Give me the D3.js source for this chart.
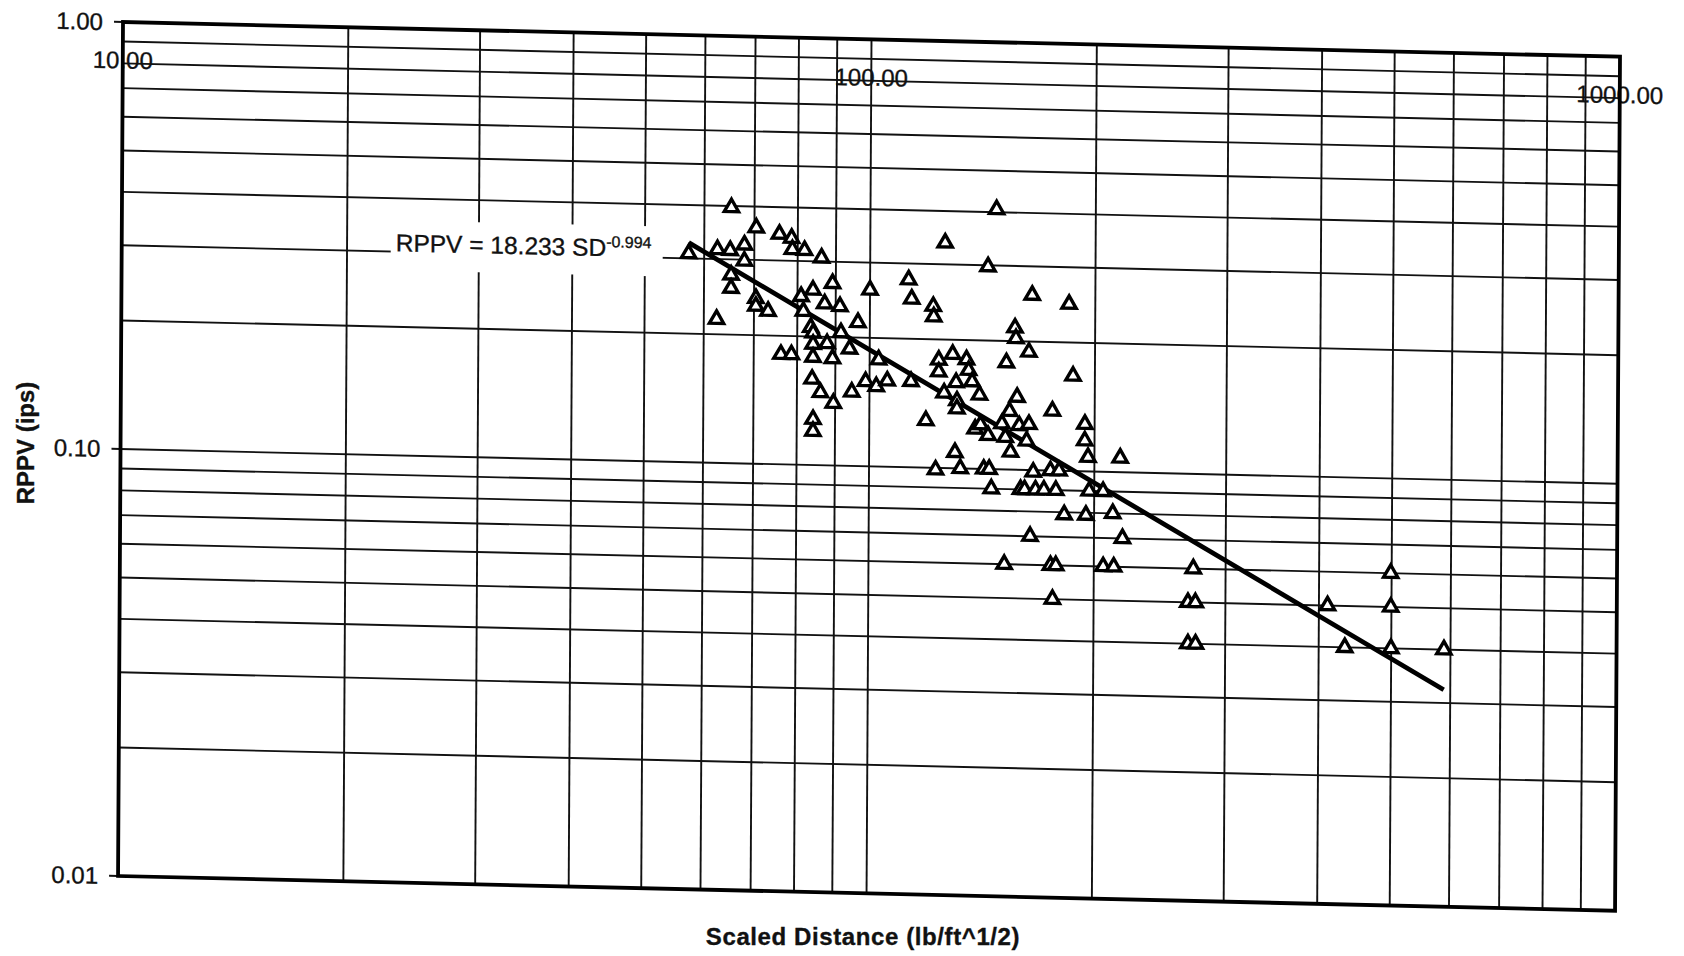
<!DOCTYPE html>
<html>
<head>
<meta charset="utf-8">
<script src="https://cdn.jsdelivr.net/npm/d3@7"></script>
<style>
  body { margin: 0; background: #fff; }
  text { font-family: "Liberation Sans", Arial, sans-serif; fill: #111; stroke: #111; stroke-width: 0.35px; }
</style>
</head>
<body>
<script>
// scaled distance (lb/ft^1/2) of each blast record
let sd = [57.2, 62.4, 62.5, 65.2, 65.0, 65.2, 65.2, 67.9, 67.9, 70.4,
  70.4, 70.4, 73.1, 75.6, 76.1, 78.5, 78.6, 78.7, 80.9, 81.7,
  81.5, 83.9, 83.4, 84.0, 84.0, 84.0, 83.8, 84.1, 84.1, 86.1,
  87.0, 86.0, 87.7, 89.1, 89.2, 89.5, 91.2, 91.5, 94.0, 94.7,
  96.4, 98.8, 100, 102.1, 102.8, 105.6, 112.6, 113.6, 113.7, 119.0,
  121.5, 121.7, 122.7, 123.7, 123.7, 125.9, 125.8, 129.1, 130.5, 130.9,
  130.9, 130.2, 132.4, 134.7, 135.6, 137.1, 138.5, 140.3, 140.8, 142.3,
  143.7, 144.1, 144.7, 145.7, 147.4, 150.4, 151.8, 152.0, 152.3, 153.9,
  154.5, 156.3, 156.8, 157.5, 158.6, 159.4, 161.4, 162.3, 163.4, 163.2,
  164.7, 165.7, 166.9, 164.3, 171.3, 174.7, 175.0, 176.2, 177.9, 177.7,
  179.4, 175.6, 182.4, 184.5, 187.0, 194.1, 194.1, 196.9, 195.0, 196.1,
  205.5, 205.8, 211.8, 212.6, 216.5, 218.3, 271.6, 267.3, 273.5, 267.5,
  273.8, 410.7, 433.4, 498.6, 498.9, 499.5, 588.0];

// measured RPPV (ips), same order
let rppv = [0.308, 0.217, 0.316, 0.397, 0.315, 0.276, 0.257, 0.298, 0.325, 0.357,
  0.244, 0.234, 0.228, 0.346, 0.181, 0.339, 0.181, 0.319, 0.248, 0.318,
  0.229, 0.257, 0.21, 0.204, 0.192, 0.179, 0.159, 0.128, 0.12, 0.306,
  0.239, 0.148, 0.193, 0.267, 0.178, 0.14, 0.236, 0.205, 0.188, 0.149,
  0.217, 0.158, 0.259, 0.154, 0.178, 0.159, 0.275, 0.159, 0.248, 0.129,
  0.239, 0.226, 0.099, 0.179, 0.168, 0.337, 0.15, 0.185, 0.159, 0.144,
  0.138, 0.109, 0.1, 0.18, 0.17, 0.16, 0.124, 0.149, 0.127, 0.1,
  0.298, 0.12, 0.1, 0.09, 0.406, 0.128, 0.06, 0.119, 0.178, 0.137,
  0.11, 0.215, 0.203, 0.148, 0.127, 0.09, 0.09, 0.117, 0.128, 0.189,
  0.257, 0.099, 0.09, 0.07, 0.09, 0.1, 0.06, 0.05, 0.06, 0.09,
  0.1, 0.138, 0.079, 0.246, 0.167, 0.129, 0.118, 0.09, 0.079, 0.108,
  0.09, 0.06, 0.08, 0.06, 0.108, 0.07, 0.06, 0.05, 0.05, 0.04,
  0.04, 0.05, 0.04, 0.06, 0.05, 0.04, 0.04];

// power fit shown on the chart
let fitCoef = 18.233;
let fitExp = -0.994;

let xTicks = [10, 100, 1000];
let yTicks = [0.01, 0.1, 1];
let xTickLabels = ["10.00", "100.00", "1000.00"];
let yTickLabels = ["0.01", "0.10", "1.00"];

let svg = d3.select('body')
  .append('svg')
  .attr('width', 1684)
  .attr('height', 956);

let width = 1497;
let height = 854;

// the scanned page is slightly skewed, so the plot is drawn in a sheared frame
let plot = svg.append('g')
  .attr('transform', 'matrix(1, 0.0232, -0.0058, 1, 123, 22)');

let x = d3.scaleLog().domain([10, 1000]).range([0, width]);
let y = d3.scaleLog().domain([0.01, 1]).range([height, 0]);

// minor + major grid lines at 1..9 of each decade
let xGrid = [];
[10, 100].forEach(d => d3.range(1, 10).forEach(k => xGrid.push(d * k)));
let yGrid = [];
[0.01, 0.1].forEach(d => d3.range(1, 10).forEach(k => yGrid.push(d * k)));

plot.selectAll('.vgrid')
  .data(xGrid)
  .enter()
  .append('line')
  .attr('x1', d => x(d))
  .attr('x2', d => x(d))
  .attr('y1', 0)
  .attr('y2', height)
  .attr('stroke', '#111')
  .attr('stroke-width', 1.9);

plot.selectAll('.hgrid')
  .data(yGrid)
  .enter()
  .append('line')
  .attr('x1', 0)
  .attr('x2', width)
  .attr('y1', d => y(d))
  .attr('y2', d => y(d))
  .attr('stroke', '#111')
  .attr('stroke-width', 1.9);

// y ticks and labels
plot.selectAll('.ytick')
  .data(yTicks)
  .enter()
  .append('line')
  .attr('x1', -9)
  .attr('x2', 0)
  .attr('y1', d => y(d))
  .attr('y2', d => y(d))
  .attr('stroke', '#111')
  .attr('stroke-width', 2);

plot.selectAll('.ylab')
  .data(yTicks)
  .enter()
  .append('text')
  .attr('x', -20)
  .attr('y', d => y(d))
  .attr('dy', '0.35em')
  .attr('text-anchor', 'end')
  .style('font-size', '24px')
  .text((d, i) => yTickLabels[i]);

// x labels sit just below the top edge, as in the original
plot.selectAll('.xlab')
  .data(xTicks)
  .enter()
  .append('text')
  .attr('x', d => x(d))
  .attr('y', 38)
  .attr('dy', '0.35em')
  .attr('text-anchor', 'middle')
  .style('font-size', '24px')
  .text((d, i) => xTickLabels[i]);

// equation label with white box behind it
plot.append('rect')
  .attr('x', 269)
  .attr('y', 192)
  .attr('width', 272)
  .attr('height', 50)
  .attr('fill', '#fff');

let eq = plot.append('text')
  .attr('x', 274)
  .attr('y', 223)
  .style('font-size', '24.5px');
eq.append('tspan').text('RPPV = ' + fitCoef.toFixed(3) + ' SD');
eq.append('tspan')
  .attr('dy', -9)
  .style('font-size', '16px')
  .text(fitExp.toFixed(3));

// trend line between the smallest and largest scaled distance
let sdRange = d3.extent(sd);
let trend = sdRange.map(s => [s, fitCoef * Math.pow(s, fitExp)]);

let lineFunction = d3.line()
  .x(d => x(d[0]))
  .y(d => y(d[1]));

plot.append('path')
  .attr('d', lineFunction(trend))
  .attr('stroke', '#000')
  .attr('stroke-width', 4.8)
  .attr('fill', 'none');

// data markers
let tri = d3.symbol().type(d3.symbolTriangle).size(88);

plot.selectAll('.pt')
  .data(d3.zip(sd, rppv))
  .enter()
  .append('path')
  .attr('d', tri)
  .attr('transform', d => `translate(${x(d[0])},${y(d[1])})`)
  .attr('fill', '#fff')
  .attr('stroke', '#000')
  .attr('stroke-width', 3.4);

// frame
plot.append('rect')
  .attr('x', 0)
  .attr('y', 0)
  .attr('width', width)
  .attr('height', height)
  .attr('fill', 'none')
  .attr('stroke', '#000')
  .attr('stroke-width', 3.8);

// axis titles
svg.append('text')
  .attr('transform', 'translate(34,443) rotate(-90)')
  .attr('text-anchor', 'middle')
  .style('font-size', '24px')
  .style('font-weight', 'bold')
  .text('RPPV (ips)');

svg.append('text')
  .attr('x', 863)
  .attr('y', 945)
  .attr('text-anchor', 'middle')
  .style('font-size', '24px')
  .style('font-weight', 'bold')
  .style('letter-spacing', '0.6px')
  .text('Scaled Distance (lb/ft^1/2)');
</script>
</body>
</html>
